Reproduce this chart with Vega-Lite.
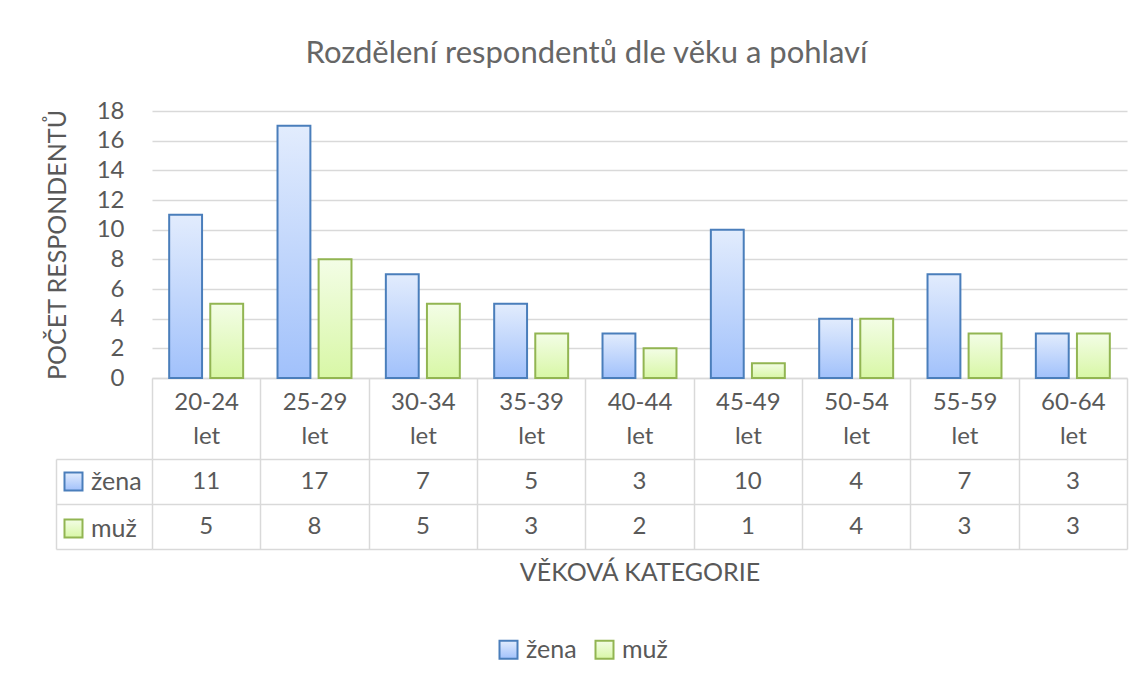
{
  "$schema": "https://vega.github.io/schema/vega-lite/v6.json",
  "background": "white",
  "autosize": {"type": "pad"},
  "padding": {"left": 45, "top": 38, "right": 16, "bottom": 5},
  "title": {"text": "Rozdělení respondentů dle věku a pohlaví", "font": "Lato", "fontSize": 31, "fontWeight": "normal", "color": "#666666", "anchor": "middle", "frame": "bounds", "offset": 29},
  "config": {
    "font": "Lato",
    "view": {"stroke": null},
    "axis": {"labelFont": "Lato", "titleFont": "Lato", "labelColor": "#595959", "titleColor": "#595959", "titleFontWeight": "normal"},
    "legend": {"labelFont": "Lato", "labelColor": "#595959", "labelFontSize": 25, "symbolType": "square", "symbolSize": 324, "symbolStrokeWidth": 2}
  },
  "data": {"values": [
    {"kat": "20-24 let", "pohlavi": "žena", "pocet": 11},
    {"kat": "25-29 let", "pohlavi": "žena", "pocet": 17},
    {"kat": "30-34 let", "pohlavi": "žena", "pocet": 7},
    {"kat": "35-39 let", "pohlavi": "žena", "pocet": 5},
    {"kat": "40-44 let", "pohlavi": "žena", "pocet": 3},
    {"kat": "45-49 let", "pohlavi": "žena", "pocet": 10},
    {"kat": "50-54 let", "pohlavi": "žena", "pocet": 4},
    {"kat": "55-59 let", "pohlavi": "žena", "pocet": 7},
    {"kat": "60-64 let", "pohlavi": "žena", "pocet": 3},
    {"kat": "20-24 let", "pohlavi": "muž", "pocet": 5},
    {"kat": "25-29 let", "pohlavi": "muž", "pocet": 8},
    {"kat": "30-34 let", "pohlavi": "muž", "pocet": 5},
    {"kat": "35-39 let", "pohlavi": "muž", "pocet": 3},
    {"kat": "40-44 let", "pohlavi": "muž", "pocet": 2},
    {"kat": "45-49 let", "pohlavi": "muž", "pocet": 1},
    {"kat": "50-54 let", "pohlavi": "muž", "pocet": 4},
    {"kat": "55-59 let", "pohlavi": "muž", "pocet": 3},
    {"kat": "60-64 let", "pohlavi": "muž", "pocet": 3}
  ]},
  "bounds": "flush",
  "spacing": 81,
  "resolve": {
    "scale": {"stroke": "independent"},
    "legend": {"stroke": "independent"}
  },
  "vconcat": [
    {
      "width": 975,
      "height": 267,
      "mark": {
        "type": "bar", "strokeWidth": 2,
        "fill": {"expr": "(datum.pohlavi || datum.value) === 'žena' ? {gradient: 'linear', x1: 0, y1: 0, x2: 0, y2: 1, stops: [{offset: 0, color: '#e2ecfd'}, {offset: 1, color: '#a1c1fb'}]} : {gradient: 'linear', x1: 0, y1: 0, x2: 0, y2: 1, stops: [{offset: 0, color: '#f3fde6'}, {offset: 1, color: '#d8f7a6'}]}"}
      },
      "encoding": {
        "x": {
          "field": "kat", "type": "nominal", "sort": null,
          "scale": {"paddingInner": 0, "paddingOuter": 0},
          "axis": {
            "title": null, "orient": "bottom", "tickBand": "extent", "ticks": true, "tickSize": 81,
            "tickColor": "#d9d9d9", "tickWidth": 1.5, "domain": true, "domainColor": "#d9d9d9", "domainWidth": 1.5,
            "labelExpr": "split(datum.label, ' ')", "labelFontSize": 24, "labelLineHeight": 34,
            "labelBaseline": "middle", "labelPadding": -57, "labelAngle": 0, "grid": false, "labelOverlap": false
          }
        },
        "xOffset": {
          "field": "pohlavi", "type": "nominal", "sort": ["žena", "muž"],
          "scale": {"paddingInner": 0.2, "paddingOuter": 0.418}
        },
        "y": {
          "field": "pocet", "type": "quantitative",
          "scale": {"domain": [0, 18], "nice": false},
          "axis": {
            "title": "POČET RESPONDENTŮ", "values": [0, 2, 4, 6, 8, 10, 12, 14, 16, 18],
            "grid": true, "gridColor": "#d9d9d9", "gridWidth": 1.5, "domain": false, "ticks": false,
            "labelFontSize": 24, "labelPadding": 28, "titleFontSize": 25, "titlePadding": 26
          }
        },
        "stroke": {
          "field": "pohlavi", "type": "nominal",
          "scale": {"domain": ["žena", "muž"], "range": ["#4a7ebb", "#92b552"]},
          "legend": {
            "orient": "none", "legendX": 344, "legendY": 526, "direction": "horizontal", "title": null, "columnPadding": 14, "labelOffset": 5,
            "encoding": {"symbols": {"update": {"fill": {"signal": "datum.value === 'žena' ? {gradient: 'linear', x1: 0, y1: 0, x2: 0, y2: 1, stops: [{offset: 0, color: '#e2ecfd'}, {offset: 1, color: '#a1c1fb'}]} : {gradient: 'linear', x1: 0, y1: 0, x2: 0, y2: 1, stops: [{offset: 0, color: '#f3fde6'}, {offset: 1, color: '#d8f7a6'}]}"}, "fillOpacity": {"value": 1}}}}
          }
        }
      }
    },
    {
      "width": 975,
      "height": 90,
      "encoding": {
        "x": {
          "field": "kat", "type": "nominal", "sort": null,
          "scale": {"paddingInner": 0, "paddingOuter": 0},
          "axis": {
            "orient": "bottom", "title": "VĚKOVÁ KATEGORIE", "titleFontSize": 25, "titlePadding": 11,
            "labels": false, "ticks": false, "domain": false, "grid": true, "tickBand": "extent",
            "gridColor": "#d9d9d9", "gridWidth": 1.5
          }
        },
        "y": {
          "field": "pohlavi", "type": "nominal", "sort": ["žena", "muž"],
          "scale": {"paddingInner": 0, "paddingOuter": 0},
          "axis": {
            "orient": "left", "offset": 96, "title": null, "labels": false, "ticks": true, "tickSize": -96,
            "tickBand": "extent", "tickColor": "#d9d9d9", "tickWidth": 1.5, "domain": true,
            "domainColor": "#d9d9d9", "domainWidth": 1.5, "grid": true, "gridColor": "#d9d9d9", "gridWidth": 1.5
          }
        }
      },
      "layer": [
        {
          "mark": {"type": "text", "fontSize": 24, "color": "#595959", "font": "Lato"},
          "encoding": {"text": {"field": "pocet", "type": "quantitative"}}
        },
        {
          "transform": [{"filter": "false"}],
          "mark": {
            "type": "bar", "strokeWidth": 2,
            "fill": {"expr": "(datum.pohlavi || datum.value) === 'žena' ? {gradient: 'linear', x1: 0, y1: 0, x2: 0, y2: 1, stops: [{offset: 0, color: '#e2ecfd'}, {offset: 1, color: '#a1c1fb'}]} : {gradient: 'linear', x1: 0, y1: 0, x2: 0, y2: 1, stops: [{offset: 0, color: '#f3fde6'}, {offset: 1, color: '#d8f7a6'}]}"}
          },
          "encoding": {
            "stroke": {
              "field": "pohlavi", "type": "nominal",
              "scale": {"domain": ["žena", "muž"], "range": ["#4a7ebb", "#92b552"]},
              "legend": {
                "orient": "none", "legendX": -91, "legendY": 10, "direction": "vertical", "title": null, "rowPadding": 20, "labelOffset": 5,
                "encoding": {"symbols": {"update": {"fill": {"signal": "datum.value === 'žena' ? {gradient: 'linear', x1: 0, y1: 0, x2: 0, y2: 1, stops: [{offset: 0, color: '#e2ecfd'}, {offset: 1, color: '#a1c1fb'}]} : {gradient: 'linear', x1: 0, y1: 0, x2: 0, y2: 1, stops: [{offset: 0, color: '#f3fde6'}, {offset: 1, color: '#d8f7a6'}]}"}, "fillOpacity": {"value": 1}}}}
              }
            }
          }
        }
      ]
    }
  ]
}
